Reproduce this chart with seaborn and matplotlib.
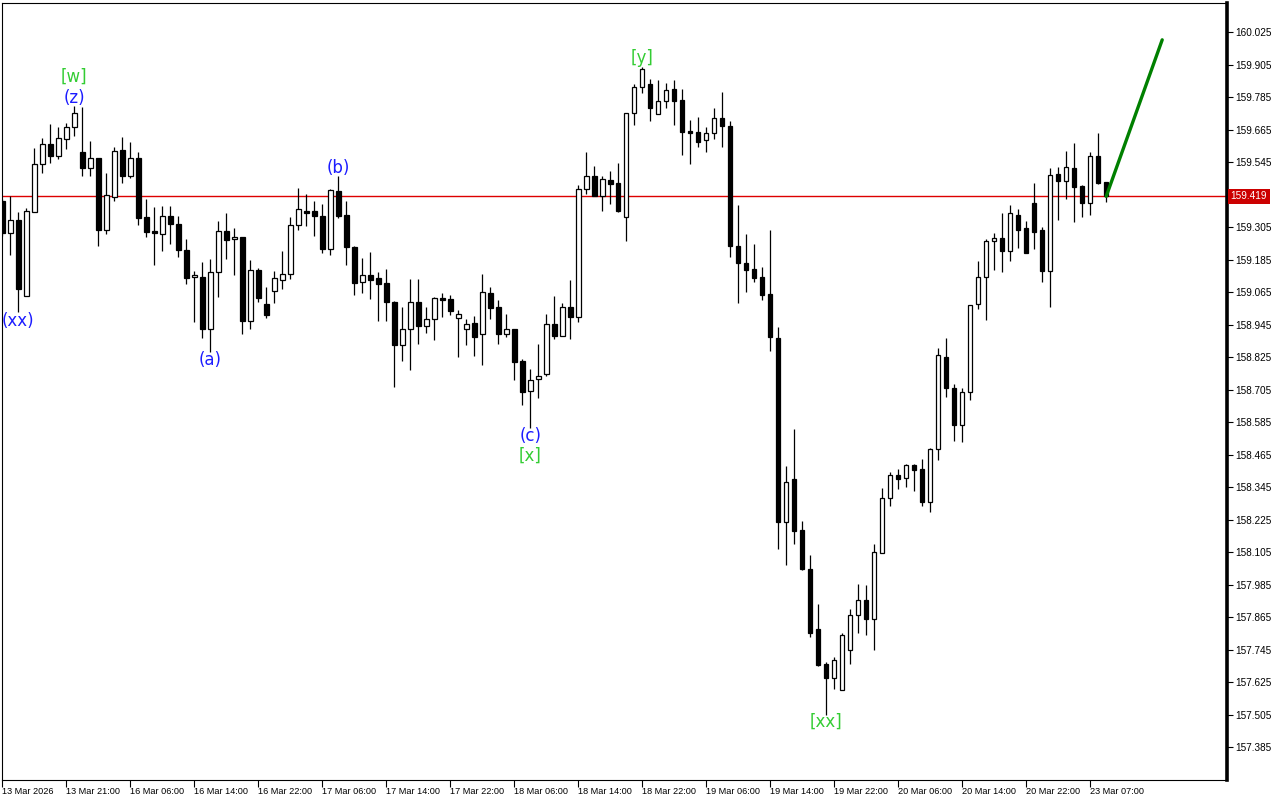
import numpy as np
import pandas as pd
import matplotlib
matplotlib.use("Agg")
import matplotlib.pyplot as plt
import seaborn as sns

# hourly candles (bar 0 = 13 Mar 13:00)
opens = [159.402, 159.284, 159.332, 159.051, 159.361, 159.538, 159.612, 159.568, 159.631, 159.675,
         159.583, 159.524, 159.561, 159.295, 159.416, 159.590, 159.494, 159.561, 159.343, 159.291,
         159.280, 159.347, 159.317, 159.221, 159.121, 159.121, 158.929, 159.139, 159.291, 159.261,
         159.269, 158.959, 159.147, 159.021, 159.069, 159.110, 159.132, 159.313, 159.365, 159.365,
         159.347, 159.224, 159.439, 159.350, 159.232, 159.103, 159.128, 159.117, 159.099, 159.029,
         158.870, 158.929, 159.029, 158.940, 158.966, 159.044, 159.040, 158.970, 158.929, 158.951,
         158.911, 159.062, 159.010, 158.911, 158.929, 158.811, 158.700, 158.744, 158.763, 158.947,
         158.903, 159.010, 158.973, 159.446, 159.494, 159.420, 159.479, 159.468, 159.343, 159.727,
         159.823, 159.834, 159.723, 159.771, 159.815, 159.775, 159.660, 159.657, 159.627, 159.653,
         159.708, 159.679, 159.236, 159.173, 159.151, 159.121, 159.058, 158.896, 158.216, 158.375,
         158.187, 158.043, 157.821, 157.692, 157.640, 157.596, 157.744, 157.873, 157.928, 157.858,
         158.102, 158.305, 158.390, 158.379, 158.427, 158.412, 158.290, 158.486, 158.826, 158.711,
         158.575, 158.696, 159.021, 159.121, 159.254, 159.265, 159.217, 159.350, 159.302, 159.394,
         159.295, 159.143, 159.502, 159.476, 159.524, 159.457, 159.394, 159.568, 159.472]
highs = [159.409, 159.420, 159.361, 159.376, 159.597, 159.634, 159.686, 159.675, 159.690, 159.753,
         159.749, 159.623, 159.561, 159.505, 159.601, 159.638, 159.620, 159.583, 159.409, 159.380,
         159.383, 159.383, 159.347, 159.261, 159.143, 159.176, 159.188, 159.328, 159.358, 159.302,
         159.269, 159.184, 159.154, 159.084, 159.143, 159.217, 159.343, 159.450, 159.428, 159.402,
         159.391, 159.446, 159.494, 159.402, 159.236, 159.191, 159.213, 159.139, 159.151, 159.032,
         159.010, 159.114, 159.114, 159.010, 159.047, 159.062, 159.055, 158.999, 158.966, 158.977,
         159.132, 159.084, 159.036, 158.984, 158.929, 158.818, 158.781, 158.874, 158.984, 159.051,
         159.025, 159.110, 159.461, 159.583, 159.531, 159.494, 159.513, 159.542, 159.727, 159.834,
         159.897, 159.852, 159.849, 159.837, 159.849, 159.815, 159.701, 159.712, 159.675, 159.745,
         159.804, 159.697, 159.387, 159.280, 159.243, 159.158, 159.295, 158.936, 158.423, 158.560,
         158.220, 158.094, 157.913, 157.699, 157.718, 157.806, 157.895, 157.987, 157.984, 158.135,
         158.342, 158.401, 158.412, 158.431, 158.431, 158.449, 158.490, 158.859, 158.896, 158.726,
         158.711, 159.018, 159.180, 159.261, 159.284, 159.358, 159.387, 159.372, 159.328, 159.468,
         159.306, 159.524, 159.527, 159.586, 159.616, 159.461, 159.583, 159.653, 159.472]
lows = [159.273, 159.202, 158.992, 159.051, 159.361, 159.505, 159.542, 159.557, 159.594, 159.642,
        159.494, 159.494, 159.236, 159.280, 159.402, 159.468, 159.487, 159.313, 159.269, 159.165,
        159.217, 159.243, 159.195, 159.095, 158.955, 158.896, 158.844, 159.047, 159.188, 159.128,
        158.911, 158.929, 159.029, 158.970, 159.025, 159.077, 159.114, 159.295, 159.309, 159.273,
        159.210, 159.202, 159.339, 159.165, 159.055, 159.062, 159.040, 158.959, 158.959, 158.715,
        158.811, 158.778, 158.874, 158.914, 158.888, 158.973, 158.981, 158.826, 158.870, 158.829,
        158.796, 158.966, 158.874, 158.900, 158.741, 158.648, 158.563, 158.674, 158.756, 158.892,
        158.903, 158.892, 158.955, 159.428, 159.420, 159.365, 159.391, 159.361, 159.254, 159.682,
        159.801, 159.697, 159.723, 159.745, 159.682, 159.572, 159.538, 159.601, 159.583, 159.631,
        159.601, 159.195, 159.025, 159.066, 159.103, 159.036, 158.848, 158.117, 158.057, 158.135,
        158.039, 157.792, 157.684, 157.504, 157.600, 157.596, 157.692, 157.806, 157.799, 157.744,
        158.102, 158.275, 158.338, 158.346, 158.331, 158.275, 158.253, 158.445, 158.678, 158.515,
        158.512, 158.667, 159.003, 158.962, 159.147, 159.139, 159.180, 159.228, 159.210, 159.224,
        159.103, 159.010, 159.332, 159.409, 159.324, 159.343, 159.350, 159.465, 159.398]
closes = [159.284, 159.332, 159.077, 159.365, 159.538, 159.612, 159.568, 159.634, 159.675, 159.727,
          159.524, 159.561, 159.295, 159.424, 159.586, 159.494, 159.561, 159.339, 159.287, 159.284,
          159.347, 159.317, 159.221, 159.117, 159.128, 158.929, 159.139, 159.291, 159.258, 159.269,
          158.959, 159.147, 159.044, 158.981, 159.117, 159.132, 159.313, 159.372, 159.358, 159.347,
          159.224, 159.442, 159.347, 159.232, 159.099, 159.128, 159.110, 159.095, 159.029, 158.870,
          158.929, 159.029, 158.940, 158.966, 159.044, 159.036, 158.995, 158.984, 158.947, 158.900,
          159.066, 159.007, 158.911, 158.929, 158.807, 158.696, 158.741, 158.756, 158.947, 158.903,
          159.010, 158.973, 159.446, 159.494, 159.420, 159.483, 159.465, 159.365, 159.727, 159.823,
          159.889, 159.745, 159.771, 159.812, 159.771, 159.657, 159.653, 159.620, 159.653, 159.708,
          159.679, 159.236, 159.173, 159.147, 159.117, 159.055, 158.900, 158.216, 158.364, 158.183,
          158.043, 157.806, 157.688, 157.640, 157.707, 157.799, 157.873, 157.928, 157.858, 158.106,
          158.305, 158.390, 158.375, 158.427, 158.408, 158.290, 158.486, 158.833, 158.711, 158.575,
          158.696, 159.018, 159.121, 159.254, 159.265, 159.217, 159.358, 159.295, 159.210, 159.287,
          159.143, 159.498, 159.476, 159.527, 159.454, 159.394, 159.568, 159.468, 159.419]

tick_bars = [0, 8, 16, 24, 32, 40, 48, 56, 64, 72, 80, 88, 96, 104, 112, 120, 128, 136]
tick_labels = ["13 Mar 2026", "13 Mar 21:00", "16 Mar 06:00", "16 Mar 14:00", "16 Mar 22:00",
               "17 Mar 06:00", "17 Mar 14:00", "17 Mar 22:00", "18 Mar 06:00", "18 Mar 14:00",
               "18 Mar 22:00", "19 Mar 06:00", "19 Mar 14:00", "19 Mar 22:00", "20 Mar 06:00",
               "20 Mar 14:00", "20 Mar 22:00", "23 Mar 07:00"]

current_price = 159.419
forecast_x = [138, 145]
forecast_y = [159.419, 159.997]

# wave labels: text, bar, price, colour
wave_text = ["[w]", "(z)", "(xx)", "(a)", "(b)", "(c)", "[x]", "[y]", "[xx]"]
wave_bar = [9, 9, 2, 26, 42, 66, 66, 80, 103]
wave_price = [159.860, 159.782, 158.959, 158.815, 159.524, 158.534, 158.460, 159.930, 157.478]
wave_kind = ["minor", "sub", "sub", "sub", "sub", "sub", "minor", "minor", "minor"]

df = pd.DataFrame({"open": opens, "high": highs, "low": lows, "close": closes})
df["bar"] = np.arange(len(df))
df["up"] = df["close"] >= df["open"]
df["bottom"] = df[["open", "close"]].min(axis=1)
df["height"] = (df["close"] - df["open"]).abs().clip(lower=0.004)

sns.set_style("white")
plt.rcParams["font.family"] = ["DejaVu Sans"]
axis_font = "Liberation Sans"

fig = plt.figure(figsize=(12.8, 8), dpi=100)
ax = fig.add_axes([2 / 1280, 20 / 800, 1225 / 1280, 777 / 800])

# current price line behind the candles
ax.axhline(current_price, color="#DD0000", linewidth=1, zorder=1)

ax.vlines(df["bar"], df["low"], df["high"], color="black", linewidth=0.9, zorder=2)
up = df[df["up"]]
dn = df[~df["up"]]
ax.bar(up["bar"], up["height"], bottom=up["bottom"], width=0.55,
       facecolor="white", edgecolor="black", linewidth=0.9, zorder=3)
ax.bar(dn["bar"], dn["height"], bottom=dn["bottom"], width=0.55,
       facecolor="black", edgecolor="black", linewidth=0.9, zorder=3)

sns.lineplot(x=forecast_x, y=forecast_y, color="#008000", linewidth=2.4, ax=ax, zorder=4)

for t, b, p, k in zip(wave_text, wave_bar, wave_price, wave_kind):
    col = "#33CC33" if k == "minor" else "#1C1CFF"
    ax.text(b, p, t, color=col, fontsize=12, ha="center", va="center", zorder=5)

ax.set_xlim(-0.05, 153.1)
ax.set_ylim(157.2635, 160.133)

yt = np.round(np.arange(157.385, 160.03, 0.12), 3)
yt = [v for v in yt if abs(v - current_price) > 0.05]
ax.yaxis.tick_right()
ax.set_yticks(yt)
ax.set_yticklabels([f"{v:.3f}" for v in yt], family=axis_font)
ax.tick_params(axis="y", right=True, left=False, direction="out", length=4,
               width=0.8, labelsize=7.2, pad=2, colors="black")

ax.set_xticks(tick_bars)
ax.set_xticklabels(tick_labels, family=axis_font)
for lbl in ax.get_xticklabels():
    lbl.set_horizontalalignment("left")
ax.tick_params(axis="x", bottom=True, direction="out", length=5, width=0.8,
               labelsize=6.6, pad=0, colors="black")

for s in ax.spines.values():
    s.set_color("black")
    s.set_linewidth(0.8)
ax.spines["right"].set_linewidth(2.6)

ax.text(1.003, current_price, f"{current_price:.3f}", transform=ax.get_yaxis_transform(),
        color="white", fontsize=7.2, family=axis_font, ha="left", va="center", zorder=6,
        clip_on=False,
        bbox=dict(boxstyle="square,pad=0.25", facecolor="#CC0000", edgecolor="none"))

ax.set_xlabel("")
ax.set_ylabel("")

fig.savefig("out.png", dpi=100)
